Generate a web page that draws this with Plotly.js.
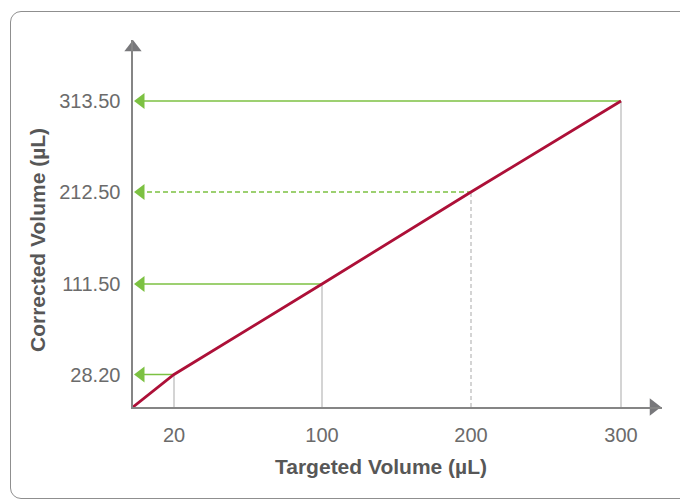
<!DOCTYPE html>
<html>
<head>
<meta charset="utf-8">
<script src="https://cdn.plot.ly/plotly-3.0.1.min.js"></script>
<style>
  html, body { margin: 0; padding: 0; background: #fff; }
  #wrap { position: relative; width: 680px; height: 502px; overflow: hidden; }
  #frame { position: absolute; left: 10px; top: 11px; width: 700px; height: 488px;
           border: 1.6px solid #8f8f8f; border-radius: 11px; box-sizing: border-box; }
  #chart { position: absolute; left: 0; top: 0; width: 680px; height: 502px; }
</style>
</head>
<body>
<div id="wrap">
  <div id="frame"></div>
  <div id="chart"></div>
</div>
<script>
// ---- data ----
const targeted  = [0, 20, 100, 200, 300];          // µL
const corrected = [0, 28.2, 111.5, 212.5, 313.5];  // µL
const xTickLabels = ['20', '100', '200', '300'];
const yTickLabels = ['28.20', '111.50', '212.50', '313.50'];
const dashedLevel = 200;                            // targeted value drawn with dashed guides

// ---- schematic (not-to-scale) axis layout: breakpoints -> axis units ----
const xBreaks = [0, 20, 100, 200, 300];
const xUnits  = [0, 41, 189, 338, 488];
const yBreaks = [0, 28.2, 111.5, 212.5, 313.5];
const yUnits  = [0, 32.5, 123, 215, 306];
const xMax = 529, yMax = 367;

function interp(v, br, un) {
  for (let i = 1; i < br.length; i++) {
    if (v <= br[i]) {
      const t = (v - br[i-1]) / (br[i] - br[i-1]);
      return un[i-1] + t * (un[i] - un[i-1]);
    }
  }
  const n = br.length - 1;
  return un[n] + (v - br[n]) * (un[n] - un[n-1]) / (br[n] - br[n-1]);
}
const sx = v => interp(v, xBreaks, xUnits);
const sy = v => interp(v, yBreaks, yUnits);

const M = {l: 133, r: 18, t: 40, b: 95};
const W = 680, H = 502;
const pw = W - M.l - M.r, ph = H - M.t - M.b;
const paperX = px => (px - M.l) / pw;
const paperY = py => (H - M.b - py) / ph;

const green = '#7cc142', grey = '#bdbdbd', red = '#ad1038', axisCol = '#858585', headCol = '#78787b';
const traces = [];

// vertical guides down to x axis
for (let i = 1; i < targeted.length; i++) {
  traces.push({
    x: [sx(targeted[i]), sx(targeted[i])], y: [0, sy(corrected[i])],
    mode: 'lines', line: {color: grey, width: 1.3, dash: targeted[i] === dashedLevel ? '4px,3px' : 'solid'},
    hoverinfo: 'skip', showlegend: false
  });
}
// green guides to y axis
for (let i = 1; i < targeted.length; i++) {
  traces.push({
    x: [6, sx(targeted[i])], y: [sy(corrected[i]), sy(corrected[i])],
    mode: 'lines', line: {color: green, width: 1.6, dash: targeted[i] === dashedLevel ? '5px,3px' : 'solid'},
    hoverinfo: 'skip', showlegend: false
  });
}
// green arrow heads
traces.push({
  x: corrected.slice(1).map(() => 8), y: corrected.slice(1).map(sy),
  mode: 'markers', marker: {symbol: 'triangle-left', size: 14, color: green},
  cliponaxis: false, hoverinfo: 'skip', showlegend: false
});
// main red line
traces.push({
  x: targeted.map(sx), y: corrected.map(sy),
  mode: 'lines', line: {color: red, width: 2.8},
  cliponaxis: false, hoverinfo: 'skip', showlegend: false
});
// axis arrow heads
traces.push({
  x: [0], y: [yMax - 7.5], mode: 'markers',
  marker: {symbol: 'triangle-up', size: 15, color: headCol},
  cliponaxis: false, hoverinfo: 'skip', showlegend: false
});
traces.push({
  x: [xMax - 8.5], y: [0], mode: 'markers',
  marker: {symbol: 'triangle-right', size: 15, color: headCol},
  cliponaxis: false, hoverinfo: 'skip', showlegend: false
});

const tickFont = {family: 'Liberation Sans, Arial, sans-serif', size: 20, color: '#6b6b6b'};
const titleFont = {family: 'Liberation Sans, Arial, sans-serif', size: 21, color: '#575757', weight: 'bold'};

const layout = {
  width: W, height: H,
  margin: M,
  paper_bgcolor: 'rgba(0,0,0,0)', plot_bgcolor: 'rgba(0,0,0,0)',
  showlegend: false,
  xaxis: {
    range: [0, xMax], showgrid: false, zeroline: false,
    showline: true, linecolor: axisCol, linewidth: 1.6,
    tickmode: 'array', tickvals: xBreaks.slice(1).map(sx), ticktext: xTickLabels,
    ticks: '', tickfont: tickFont, ticklabelstandoff: 9, fixedrange: true
  },
  yaxis: {
    range: [0, yMax], showgrid: false, zeroline: false,
    showline: true, linecolor: axisCol, linewidth: 1.6,
    tickmode: 'array', tickvals: yBreaks.slice(1).map(sy), ticktext: yTickLabels,
    ticks: '', tickfont: tickFont, ticklabelstandoff: 7, fixedrange: true
  },
  annotations: [
    {text: '<b>Targeted Volume (µL)</b>', xref: 'paper', yref: 'paper',
     x: paperX(381), y: paperY(466), xanchor: 'center', yanchor: 'middle',
     showarrow: false, font: titleFont},
    {text: '<b>Corrected Volume (µL)</b>', xref: 'paper', yref: 'paper',
     x: paperX(37), y: paperY(240), xanchor: 'center', yanchor: 'middle',
     textangle: -90, showarrow: false, font: titleFont}
  ]
};

Plotly.newPlot('chart', traces, layout, {displayModeBar: false, staticPlot: true});
</script>
</body>
</html>
